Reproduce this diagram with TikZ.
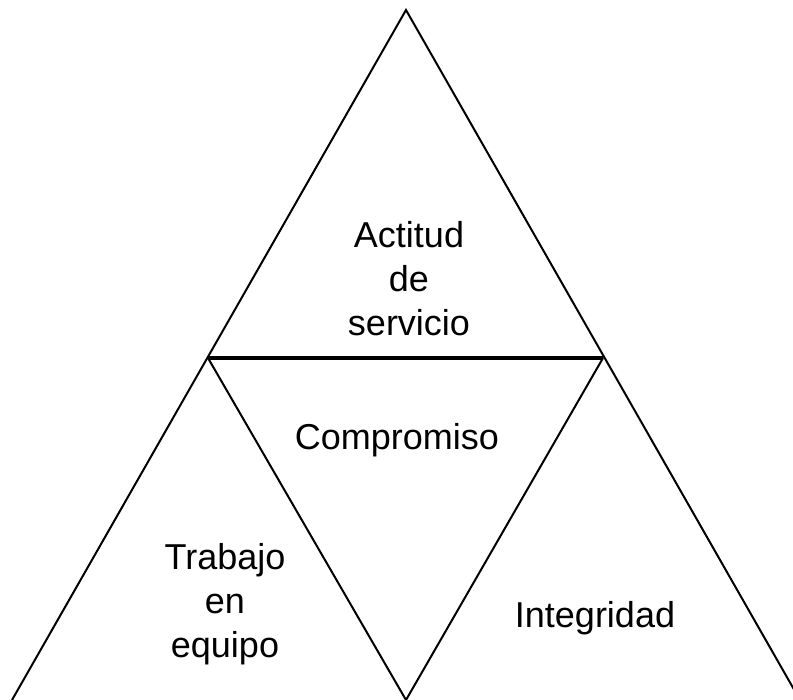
\documentclass[tikz,border=0pt]{standalone}
\usepackage{fontspec}
\setmainfont{Liberation Sans}
\begin{document}
\begin{tikzpicture}[x=1pt,y=-1pt,
  edge/.style={line width=2pt,line join=miter},
  midedge/.style={line width=3.8pt},
  lbl/.style={font=\fontsize{36}{44}\selectfont,align=center,anchor=base,inner sep=0pt}]
\useasboundingbox (0,0) rectangle (793,700);
\clip (0,0) rectangle (793,700);
\coordinate (A) at (406,10);
\coordinate (L) at (208,358);
\coordinate (R) at (603,358);
\coordinate (BL) at (12,700);
\coordinate (BM) at (406,700);
\coordinate (BR) at (800,700);
\draw[edge] (BL) -- (A) -- (BR);
\draw[edge] (L) -- (BM) -- (R);
\draw[midedge] (L) -- (R);
\node[lbl] (act) at (409,336) {Actitud\\de\\servicio};
\node[lbl] (com) at (397,450) {Compromiso};
\node[lbl] (tra) at (225,657) {Trabajo\\en\\equipo};
\node[lbl] (int) at (595,627) {Integridad};
\end{tikzpicture}
\end{document}
